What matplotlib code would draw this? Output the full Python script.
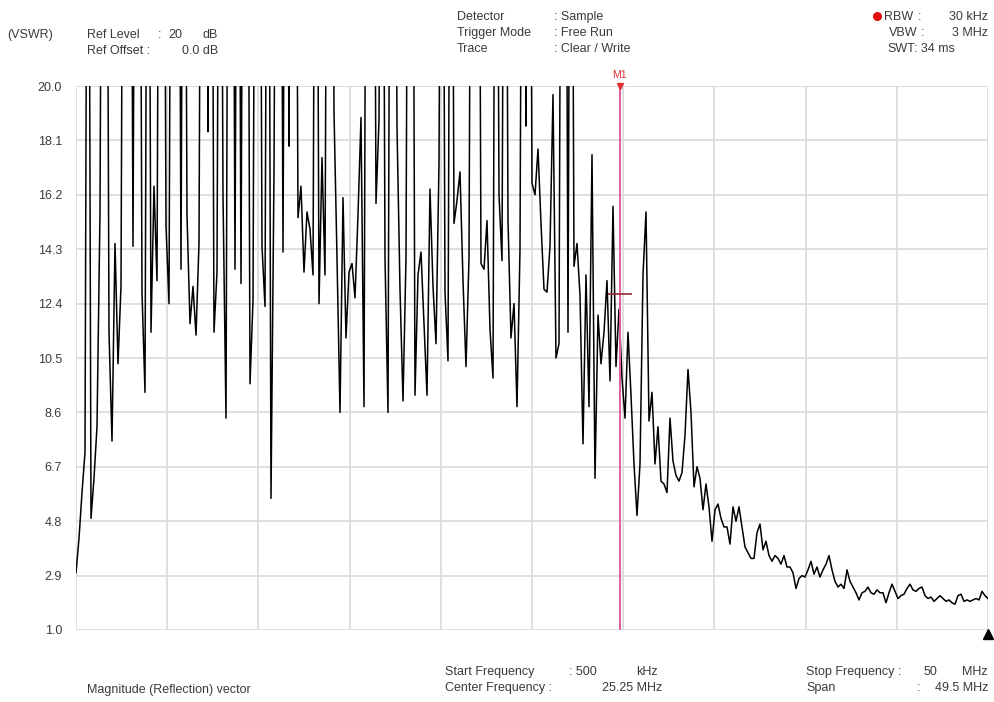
import numpy as np
import matplotlib.pyplot as plt
from matplotlib import transforms
from matplotlib.lines import Line2D

# VSWR trace, start 0.5 MHz, stop 50 MHz, evenly spaced sweep points
# (40 = off the top of the 20.0 scale)
vswr = [
    3.0, 4.2, 5.8, 7.2, 40, 4.9, 6.3, 8.1, 15.6, 40,
    40, 11.4, 7.6, 14.5, 10.3, 13.0, 40, 40, 40, 14.4,
    40, 40, 12.8, 9.3, 40, 11.4, 16.5, 13.2, 40, 40,
    15.1, 12.4, 40, 40, 40, 13.6, 40, 15.5, 11.7, 13.0,
    11.3, 14.5, 40, 40, 18.4, 40, 11.4, 13.5, 40, 16.2,
    8.4, 40, 40, 13.6, 40, 13.1, 40, 40, 9.6, 12.5,
    40, 40, 14.4, 12.3, 40, 5.6, 17.0, 40, 40, 14.2,
    40, 17.9, 40, 40, 15.4, 16.5, 13.5, 15.6, 15.0, 13.4,
    40, 12.4, 17.5, 13.4, 40, 40, 19.1, 14.0, 8.6, 16.1,
    11.2, 13.5, 13.8, 12.6, 15.5, 18.9, 8.8, 40, 40, 40,
    15.9, 18.8, 40, 14.0, 8.6, 40, 40, 18.6, 12.9, 9.0,
    14.0, 40, 40, 9.2, 13.4, 14.2, 11.7, 9.2, 16.4, 13.0,
    11.0, 17.3, 40, 12.8, 10.4, 40, 15.2, 16.0, 17.0, 13.2,
    10.2, 14.0, 40, 40, 40, 13.8, 13.6, 15.3, 11.5, 9.8,
    40, 16.2, 13.9, 40, 15.3, 11.2, 12.4, 8.8, 14.3, 40,
    18.6, 40, 16.6, 16.2, 17.8, 15.2, 12.9, 12.8, 14.4, 19.7,
    10.5, 11.0, 40, 40, 11.4, 40, 13.7, 14.5, 12.7, 7.5,
    13.4, 8.8, 17.6, 6.3, 12.0, 10.3, 11.4, 13.2, 9.7, 15.8,
    10.2, 12.2, 9.8, 8.4, 11.4, 9.2, 6.8, 5.0, 6.8, 13.4,
    15.6, 8.3, 9.3, 6.8, 8.1, 6.2, 6.1, 5.8, 8.4, 6.9,
    6.4, 6.2, 6.5, 7.8, 10.1, 8.6, 6.0, 6.7, 6.3, 5.2,
    6.1, 5.3, 4.1, 5.2, 5.4, 4.9, 4.6, 4.6, 4.0, 5.3,
    4.8, 5.3, 4.6, 3.9, 3.7, 3.5, 3.5, 4.4, 4.7, 3.8,
    4.1, 3.6, 3.4, 3.6, 3.5, 3.3, 3.6, 3.2, 3.2, 3.0,
    2.45, 2.8, 2.9, 2.85, 3.1, 3.4, 2.95, 3.2, 2.85, 3.1,
    3.3, 3.6, 3.1, 2.7, 2.5, 2.6, 2.45, 3.1, 2.7, 2.5,
    2.3, 2.05, 2.3, 2.35, 2.5, 2.3, 2.25, 2.4, 2.3, 2.3,
    1.95, 2.3, 2.6, 2.35, 2.1, 2.2, 2.25, 2.45, 2.6, 2.4,
    2.35, 2.45, 2.5, 2.2, 2.1, 2.15, 2.0, 2.1, 2.2, 2.1,
    2.0, 2.05, 1.95, 1.9, 2.2, 2.25, 2.0, 2.05, 2.0, 2.05,
    2.1, 2.05, 2.35, 2.2, 2.1,
]
f_start = 0.5
f_stop = 50.0
freq = np.linspace(f_start, f_stop, len(vswr))

y_ticks = [1.0, 2.9, 4.8, 6.7, 8.6, 10.5, 12.4, 14.3, 16.2, 18.1, 20.0]
marker_freq = 30.0
marker_level = 12.75

txt = '#3a3a3a'
plt.rcParams['font.family'] = 'Liberation Sans'
plt.rcParams['font.size'] = 9

fig = plt.figure(figsize=(9.95, 7.02), dpi=100)
ax = fig.add_axes([76 / 995, 1 - 630 / 702, 912 / 995, 544 / 702])

ax.plot(freq, vswr, color='black', lw=1.1, zorder=3)
ax.set_xlim(f_start, f_stop)
ax.set_ylim(y_ticks[0], y_ticks[-1])

ax.set_xticks(np.linspace(f_start, f_stop, 11))
ax.set_xticklabels([])
ax.set_yticks(y_ticks)
ax.set_yticklabels(['%.1f' % v for v in y_ticks], color=txt)
ax.tick_params(length=0, pad=10)
ax.grid(True, color='#dcdcdc', lw=1.3)
for s in ax.spines.values():
    s.set_visible(False)

# marker M1
ax.axvline(marker_freq, color='#e0609a', lw=1.4, zorder=4)
ax.hlines(marker_level, marker_freq - 0.6, marker_freq + 0.7, color='#8e2b2b', lw=1.2, zorder=5)
ax.plot([marker_freq], [20.0], marker='v', ms=4, color='#e03030', clip_on=False, zorder=5)
ax.text(marker_freq, 20.2, 'M1', color='#e03030', fontsize=7.5, ha='center', va='bottom')

# sweep end marker
below = transforms.offset_copy(ax.transData, fig=fig, y=-4, units='dots')
ax.plot([f_stop], [1.0], marker='^', ms=7, color='black', clip_on=False, transform=below)


def put(x, y, s, **kw):
    fig.text(x / 995, 1 - y / 702, s, color=txt, va='center', **kw)


# header
put(7, 35, '(VSWR)')
put(87, 35, 'Ref Level')
put(158, 35, ':')
put(168, 35, '20')
put(218, 35, 'dB', ha='right')
put(87, 51, 'Ref Offset :')
put(218, 51, '0.0 dB', ha='right')

put(457, 17, 'Detector')
put(457, 33, 'Trigger Mode')
put(457, 49, 'Trace')
put(554, 17, ': Sample')
put(554, 33, ': Free Run')
put(554, 49, ': Clear / Write')

fig.add_artist(Line2D([877 / 995], [1 - 16 / 702], marker='o', ms=5.5, color='#e01010',
                      transform=fig.transFigure))
put(884, 17, 'RBW')
put(918, 17, ':')
put(988, 17, '30 kHz', ha='right')
put(889, 33, 'VBW')
put(921, 33, ':')
put(988, 33, '3 MHz', ha='right')
put(887, 49, 'SWT')
put(914, 49, ': 34 ms')

# footer
put(87, 690, 'Magnitude (Reflection) vector')
put(445, 672, 'Start Frequency')
put(569, 672, ': 500')
put(658, 672, 'kHz', ha='right')
put(445, 688, 'Center Frequency :')
put(662, 688, '25.25 MHz', ha='right')
put(806, 672, 'Stop Frequency :')
put(924, 672, '50')
put(988, 672, 'MHz', ha='right')
put(806, 688, 'Span')
put(917, 688, ':')
put(988, 688, '49.5 MHz', ha='right')

fig.savefig('out.png', dpi=100)
